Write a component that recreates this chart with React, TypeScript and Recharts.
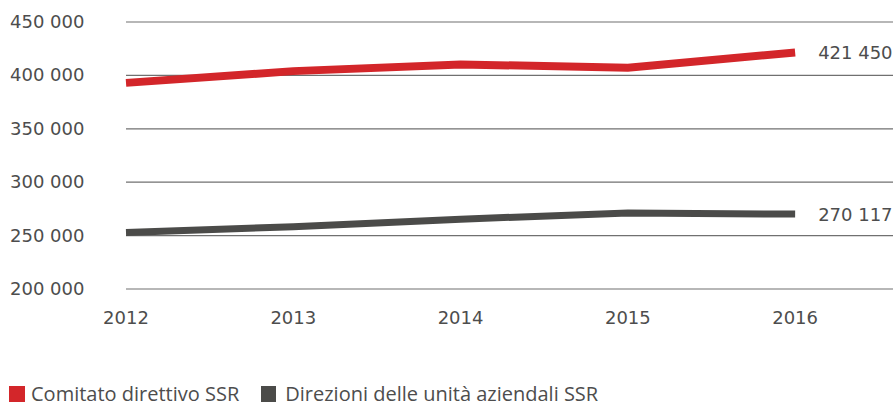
import { CartesianGrid, Line, LineChart, XAxis, YAxis } from "recharts"

const years = [2012, 2013, 2014, 2015, 2016]
const comitato = [393000, 404000, 410300, 407100, 421450]
const direzioni = [252800, 258300, 265400, 271200, 270117]
const yTicks = [200000, 250000, 300000, 350000, 400000, 450000]

const RED = "#d3262a"
const GRAY = "#4b4b49"
const TEXT = "#4d4d4d"
const FONT = "'DejaVu Sans', sans-serif"

const data = years.map((year, i) => ({
    year,
    comitato: comitato[i],
    direzioni: direzioni[i],
}))

const fmt = (v: number) => {
    const th = Math.floor(v / 1000)
    const rest = String(v % 1000).padStart(3, "0")
    return `${th}\u00A0${rest}`
}

const YTick = ({ y, payload }: any) => (
    <text x={10} y={y} dy={6} fill={TEXT} fontSize={18} fontFamily={FONT}>
        {fmt(payload.value)}
    </text>
)

const XTick = ({ x, payload }: any) => (
    <text x={x} y={324} textAnchor="middle" fill={TEXT} fontSize={18} fontFamily={FONT}>
        {payload.value}
    </text>
)

const endLabel = (last: number) => (props: any) => {
    const { x, y, value, index } = props
    if (index !== last) return <g />
    return (
        <text x={x + 23} y={y} dy={6.5} fill={TEXT} fontSize={18} fontFamily={FONT}>
            {fmt(value)}
        </text>
    )
}

export default function App() {
    return (
        <div style={{ position: "absolute", left: 0, top: 0, width: 896, height: 405, background: "#fff", overflow: "hidden" }}>
            <LineChart width={896} height={405} data={data} margin={{ top: 22, right: 3, left: 0, bottom: 76 }}>
                <CartesianGrid vertical={false} stroke="#707070" strokeWidth={1.2} />
                <XAxis
                    dataKey="year"
                    type="number"
                    domain={[2012, 2016.585]}
                    ticks={years}
                    axisLine={false}
                    tickLine={false}
                    height={40}
                    tick={<XTick />}
                />
                <YAxis
                    domain={[200000, 450000]}
                    ticks={yTicks}
                    axisLine={false}
                    tickLine={false}
                    width={126}
                    tick={<YTick />}
                />
                <Line
                    dataKey="direzioni"
                    stroke={GRAY}
                    strokeWidth={7}
                    dot={false}
                    activeDot={false}
                    strokeLinecap="butt"
                    isAnimationActive={false}
                    label={endLabel(years.length - 1)}
                />
                <Line
                    dataKey="comitato"
                    stroke={RED}
                    strokeWidth={8}
                    dot={false}
                    activeDot={false}
                    strokeLinecap="butt"
                    isAnimationActive={false}
                    label={endLabel(years.length - 1)}
                />
            </LineChart>
            <div
                style={{
                    position: "absolute",
                    left: 9,
                    top: 383,
                    height: 22,
                    display: "flex",
                    alignItems: "center",
                    fontFamily: "'Open Sans', sans-serif",
                    fontSize: 20,
                    lineHeight: "22px",
                    color: TEXT,
                    whiteSpace: "nowrap",
                }}
            >
                <span style={{ width: 16, height: 16, background: RED, display: "inline-block", marginRight: 6 }} />
                <span style={{ marginRight: 22 }}>Comitato direttivo SSR</span>
                <span style={{ width: 15, height: 16, background: GRAY, display: "inline-block", marginRight: 9 }} />
                <span>Direzioni delle unità aziendali SSR</span>
            </div>
        </div>
    )
}
